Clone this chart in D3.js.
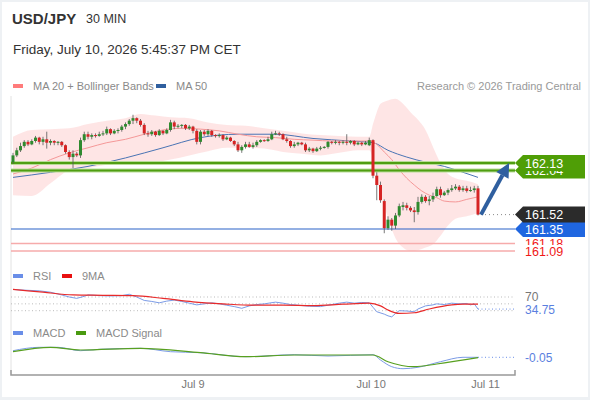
<!DOCTYPE html>
<html>
<head>
<meta charset="utf-8">
<script src="https://cdn.jsdelivr.net/npm/d3@7"></script>
<style>
  body { margin: 0; background: #fff; }
  svg { display: block; font-family: "Liberation Sans", Arial, sans-serif; }
</style>
</head>
<body>
<svg id="chart" width="590" height="400"></svg>
<script>
// ---- data (30 min candles, USD/JPY) ----
const open = [
  162.14,162.22,162.28,162.33,162.38,162.35,162.39,162.43,162.38,162.41,
  162.37,162.39,162.37,162.38,162.34,162.26,162.20,162.24,162.22,162.40,
  162.47,162.44,162.46,162.45,162.47,162.48,162.53,162.48,162.51,162.52,
  162.56,162.59,162.63,162.66,162.63,162.58,162.48,162.47,162.50,162.46,
  162.51,162.48,162.52,162.61,162.56,162.57,162.58,162.54,162.56,162.51,
  162.38,162.50,162.47,162.51,162.46,162.45,162.46,162.41,162.43,162.39,
  162.35,162.28,162.32,162.35,162.32,162.34,162.38,162.40,162.39,162.41,
  162.47,162.48,162.47,162.41,162.39,162.33,162.35,162.37,162.35,162.28,
  162.30,162.27,162.30,162.31,162.32,162.38,162.37,162.38,162.37,162.38,
  162.37,162.39,162.35,162.37,162.35,162.34,162.40,161.98,161.87,161.68,
  161.36,161.46,161.39,161.51,161.61,161.63,161.60,161.57,161.55,161.67,
  161.73,161.68,161.70,161.74,161.82,161.75,161.78,161.81,161.83,161.85,
  161.81,161.83,161.80,161.81,161.83
];
const high = [
  162.25,162.31,162.37,162.40,162.40,162.41,162.45,162.44,162.44,162.50,
  162.41,162.40,162.39,162.39,162.35,162.28,162.28,162.26,162.43,162.50,
  162.50,162.48,162.48,162.50,162.51,162.56,162.54,162.53,162.54,162.58,
  162.61,162.65,162.70,162.67,162.65,162.60,162.51,162.52,162.51,162.53,
  162.52,162.54,162.64,162.63,162.59,162.59,162.59,162.58,162.57,162.53,
  162.52,162.52,162.53,162.52,162.47,162.48,162.47,162.45,162.44,162.40,
  162.38,162.34,162.38,162.38,162.37,162.40,162.41,162.41,162.44,162.50,
  162.51,162.50,162.48,162.44,162.40,162.38,162.38,162.38,162.37,162.32,
  162.31,162.32,162.33,162.33,162.39,162.39,162.40,162.39,162.40,162.47,
  162.40,162.40,162.38,162.38,162.39,162.43,162.41,162.02,161.91,161.70,
  161.50,161.48,161.54,161.65,161.67,161.66,161.62,161.61,161.73,161.76,
  161.75,161.74,161.78,161.85,161.85,161.80,161.83,161.87,161.88,161.87,
  161.86,161.86,161.85,161.86,161.86
];
const low = [
  162.12,162.20,162.26,162.31,162.33,162.34,162.37,162.35,162.34,162.30,
  162.34,162.34,162.34,162.32,162.24,162.17,162.07,162.20,162.19,162.38,
  162.41,162.41,162.43,162.44,162.45,162.46,162.46,162.47,162.48,162.50,
  162.53,162.57,162.59,162.60,162.56,162.46,162.44,162.45,162.44,162.45,
  162.46,162.47,162.50,162.53,162.54,162.54,162.52,162.52,162.48,162.35,
  162.35,162.45,162.45,162.44,162.43,162.43,162.39,162.40,162.38,162.33,
  162.26,162.25,162.30,162.31,162.30,162.32,162.37,162.38,162.38,162.40,
  162.46,162.45,162.40,162.37,162.31,162.31,162.33,162.34,162.26,162.26,
  162.25,162.26,162.28,162.30,162.30,162.35,162.35,162.34,162.35,162.34,
  162.35,162.33,162.34,162.33,162.34,162.33,161.95,161.69,161.66,161.30,
  161.34,161.33,161.35,161.49,161.57,161.57,161.55,161.43,161.52,161.65,
  161.66,161.63,161.67,161.73,161.72,161.74,161.75,161.79,161.81,161.79,
  161.79,161.78,161.79,161.78,161.51
];
const close = [
  162.22,162.28,162.33,162.38,162.35,162.39,162.43,162.38,162.41,162.37,
  162.39,162.37,162.38,162.34,162.26,162.20,162.24,162.22,162.40,162.47,
  162.44,162.46,162.45,162.47,162.48,162.53,162.48,162.51,162.52,162.56,
  162.59,162.63,162.66,162.63,162.58,162.48,162.47,162.50,162.46,162.51,
  162.48,162.52,162.61,162.56,162.57,162.58,162.54,162.56,162.51,162.38,
  162.50,162.47,162.51,162.46,162.45,162.46,162.41,162.43,162.39,162.35,
  162.28,162.32,162.35,162.32,162.34,162.38,162.40,162.39,162.41,162.47,
  162.48,162.47,162.41,162.39,162.33,162.35,162.37,162.35,162.28,162.30,
  162.27,162.30,162.31,162.32,162.38,162.37,162.38,162.37,162.38,162.37,
  162.39,162.35,162.37,162.35,162.37,162.40,161.98,161.87,161.69,161.36,
  161.46,161.39,161.51,161.62,161.63,161.60,161.57,161.55,161.67,161.73,
  161.68,161.70,161.74,161.82,161.75,161.78,161.81,161.83,161.85,161.81,
  161.83,161.80,161.81,161.83,161.52
];

// moving averages and bands (candle index -> price)
const ma50Idx = [0,10,20,30,40,50,60,70,80,90,96,100,105,110,115,120,124];
const ma50Val = [161.96,162.02,162.09,162.19,162.31,162.43,162.47,162.47,162.42,162.39,162.37,162.28,162.20,162.14,162.09,162.02,161.96];

const ma20Idx = [0,5,10,15,20,25,30,35,40,45,50,55,60,65,70,75,80,85,90,95,97,99,101,103,105,107,109,111,113,115,118,121,124];
const ma20Val = [162.00,162.07,162.17,162.25,162.31,162.37,162.41,162.47,162.52,162.54,162.53,162.51,162.47,162.44,162.43,162.41,162.40,162.39,162.39,162.39,162.35,162.26,162.17,162.05,161.95,161.87,161.80,161.75,161.72,161.68,161.67,161.70,161.73];

const bandIdx = [0,5,10,15,20,25,30,34,38,42,47,52,57,62,67,72,77,82,87,92,95,96,97,98,100,102,104,106,108,110,112,114,116,118,121,124];
const bandUpper = [162.44,162.52,162.53,162.54,162.59,162.63,162.66,162.71,162.69,162.67,162.66,162.61,162.58,162.57,162.54,162.51,162.48,162.46,162.45,162.44,162.44,162.59,162.73,162.83,162.87,162.89,162.83,162.73,162.64,162.52,162.32,162.13,162.00,161.95,161.92,161.88];
const bandLower = [161.75,161.74,161.89,162.04,162.07,162.11,162.12,162.13,162.14,162.17,162.22,162.27,162.31,162.31,162.30,162.26,162.24,162.22,162.25,162.28,162.28,162.17,161.95,161.78,161.48,161.24,161.13,161.09,161.10,161.13,161.17,161.27,161.39,161.47,161.50,161.54];

// key levels
const resistances = [162.13, 162.04];
const lastPrice = 161.52;
const pivot = 161.35;
const supports = [161.18, 161.09];

// RSI and its 9 period average
const rsiIdx = [0,3,7,10,13,15,17,19,20,23,26,29,31,33,35,37,39,41,43,45,47,49,51,53,55,57,59,61,63,65,67,70,72,74,77,79,82,84,87,89,91,93,95,96,97,99,100,101,102,103,105,107,108,110,112,113,115,117,119,121,122,123,124];
const rsiVal = [92,90,88,84,76,70,66,72,76,74,73,74,78,70,60,57,53,58,61,57,52,47,50,53,50,46,42,37,44,48,50,55,52,48,45,43,42,46,52,55,52,54,53,40,27,20,15,12,22,30,29,27,35,44,47,50,48,52,50,51,47,50,34.75];
const rsiMaIdx = [0,8,16,24,32,40,48,56,64,72,80,88,95,98,100,103,107,111,117,120,124];
const rsiMaVal = [92,84,76,75,74,66,56,50,46,46,45,49,52,44,32,22,24,35,47,49,49];
const rsiLevels = [70, 50, 30];

// MACD
const macdIdx = [0,7,12,18,23,34,42,50,62,75,84,96,98,101,104,108,114,120,124];
const macdVal = [0.013,0.047,0.047,0.013,0.027,0.037,0.003,-0.007,-0.047,-0.027,-0.040,-0.027,-0.080,-0.147,-0.167,-0.153,-0.097,-0.053,-0.053];
const sigIdx = [0,10,18,34,50,62,75,96,100,107,113,124];
const sigVal = [0.003,0.047,0.020,0.037,-0.007,-0.047,-0.030,-0.030,-0.097,-0.147,-0.120,-0.057];

// time axis
const dayTicks = [48, 95.5, 126];
const dayLabels = ['Jul 9', 'Jul 10', 'Jul 11'];

const candles = open.map((o, i) => ({i, o, h: high[i], l: low[i], c: close[i]}));
const zip = (a, b) => a.map((v, k) => [v, b[k]]);

// ---- scales ----
const svg = d3.select('#chart');
const x = d3.scaleLinear().domain([0, 124]).range([13, 478]);
const y = d3.scaleLinear().domain([161.09, 162.13]).range([251, 163]);
const rsiY = d3.scaleLinear().domain([30, 70]).range([310.7, 297]);
const macdY = d3.scaleLinear().domain([-0.05, 0.05]).range([357, 347]);
const fmt = v => d3.format('.2f')(v).replace('\u2212', '-');
const labelX = 515;

// frame
svg.append('rect').attr('width', 590).attr('height', 400).attr('fill', '#eef1f4');
svg.append('rect').attr('x', 2).attr('y', 2).attr('width', 586).attr('height', 395).attr('fill', '#fff');

// header
svg.append('text').attr('x', 12).attr('y', 24).attr('font-size', 15).attr('font-weight', 'bold')
  .attr('fill', '#333').text('USD/JPY');
svg.append('text').attr('x', 86).attr('y', 23).attr('font-size', 12.5).attr('fill', '#333').text('30 MIN');
svg.append('text').attr('x', 13).attr('y', 54).attr('font-size', 13.5).attr('fill', '#333')
  .text('Friday, July 10, 2026 5:45:37 PM CET');

// legends
const legend = (lx, ly, color, label) => {
  svg.append('rect').attr('x', lx).attr('y', ly - 2).attr('width', 10).attr('height', 4).attr('fill', color);
  svg.append('text').attr('x', lx + 20).attr('y', ly + 4).attr('font-size', 11).attr('fill', '#8a8a8a').text(label);
};
legend(13, 86, '#ff7b7b', 'MA 20 + Bollinger Bands');
legend(156, 86, '#2f5f9f', 'MA 50');
svg.append('text').attr('x', 581).attr('y', 90).attr('font-size', 11).attr('fill', '#999')
  .attr('text-anchor', 'end').text('Research \u00a9 2026 Trading Central');

// left rule
svg.append('line').attr('x1', 11).attr('x2', 11).attr('y1', 96).attr('y2', 375)
  .attr('stroke', '#e2e2e2');

// ---- price panel ----
const area = d3.area().x(d => x(d[0])).y0(d => y(d[2])).y1(d => y(d[1])).curve(d3.curveMonotoneX);
svg.append('path')
  .attr('d', area(bandIdx.map((v, k) => [v, bandUpper[k], bandLower[k]])))
  .attr('fill', '#fddcdc').attr('opacity', 0.75);

const pline = d3.line().x(d => x(d[0])).y(d => y(d[1])).curve(d3.curveMonotoneX);
svg.append('path').attr('d', pline(zip(ma50Idx, ma50Val)))
  .attr('fill', 'none').attr('stroke', '#4a74b4').attr('stroke-width', 1);
svg.append('path').attr('d', pline(zip(ma20Idx, ma20Val)))
  .attr('fill', 'none').attr('stroke', '#f59898').attr('stroke-width', 1);

// level lines
resistances.forEach(v => {
  svg.append('line').attr('x1', 11).attr('x2', labelX).attr('y1', y(v)).attr('y2', y(v))
    .attr('stroke', '#b9dd98').attr('stroke-width', 4);
  svg.append('line').attr('x1', 11).attr('x2', labelX).attr('y1', y(v)).attr('y2', y(v))
    .attr('stroke', '#4f9e12').attr('stroke-width', 2);
});
svg.append('line').attr('x1', 11).attr('x2', labelX).attr('y1', y(pivot)).attr('y2', y(pivot))
  .attr('stroke', '#2a63c8').attr('stroke-width', 1.2);
supports.forEach(v => {
  svg.append('line').attr('x1', 11).attr('x2', labelX).attr('y1', y(v)).attr('y2', y(v))
    .attr('stroke', '#f6abab').attr('stroke-width', 1.5);
});
svg.append('line').attr('x1', x(124) + 3).attr('x2', labelX).attr('y1', y(lastPrice)).attr('y2', y(lastPrice))
  .attr('stroke', '#888').attr('stroke-dasharray', '1,3');

// candles
const cg = svg.append('g');
cg.selectAll('line').data(candles).join('line')
  .attr('x1', d => x(d.i)).attr('x2', d => x(d.i))
  .attr('y1', d => y(d.h)).attr('y2', d => y(d.l))
  .attr('stroke', '#555').attr('stroke-width', 0.8);
cg.selectAll('rect').data(candles).join('rect')
  .attr('x', d => x(d.i) - 1.5).attr('width', 3)
  .attr('y', d => y(Math.max(d.o, d.c)))
  .attr('height', d => Math.max(1, Math.abs(y(d.o) - y(d.c))))
  .attr('fill', d => d.c >= d.o ? '#2f8a2f' : '#d62424');

// arrow to target
{
  const x0 = x(124) + 3, y0 = y(lastPrice);
  const x1 = x(132.3), y1 = y(resistances[0]);
  const ang = Math.atan2(y1 - y0, x1 - x0);
  const hl = 14, hw = 7;
  const bx = x1 - hl * Math.cos(ang), by = y1 - hl * Math.sin(ang);
  svg.append('line').attr('x1', x0).attr('y1', y0).attr('x2', bx).attr('y2', by)
    .attr('stroke', '#2f5f9f').attr('stroke-width', 4);
  svg.append('path').attr('fill', '#2f5f9f')
    .attr('d', `M${x1},${y1}L${bx + hw * Math.sin(ang)},${by - hw * Math.cos(ang)}L${bx - hw * Math.sin(ang)},${by + hw * Math.cos(ang)}Z`);
}

// right labels
const tag = (v, fill, txtColor) => {
  const cy = y(v);
  svg.append('path')
    .attr('d', `M${labelX},${cy}L${labelX + 8},${cy - 8}L585,${cy - 8}L585,${cy + 8}L${labelX + 8},${cy + 8}Z`)
    .attr('fill', fill);
  svg.append('text').attr('x', labelX + 10).attr('y', cy + 4.5).attr('font-size', 12.5)
    .attr('fill', txtColor).text(fmt(v));
};
supports.forEach(v => {
  svg.append('rect').attr('x', labelX + 6).attr('y', y(v) - 6).attr('width', 60).attr('height', 12).attr('fill', '#fff');
  svg.append('text').attr('x', labelX + 10).attr('y', y(v) + 4.5).attr('font-size', 12.5)
    .attr('fill', '#f01818').text(fmt(v));
});
tag(pivot, '#1f66e0', '#fff');
tag(lastPrice, '#2b2b2b', '#fff');
tag(resistances[1], '#4f9e06', '#fff');
tag(resistances[0], '#4f9e06', '#fff');

// ---- RSI panel ----
legend(13, 276, '#6a8ee8', 'RSI');
legend(62, 276, '#e81010', '9MA');
rsiLevels.forEach(v => {
  svg.append('line').attr('x1', 11).attr('x2', labelX).attr('y1', rsiY(v)).attr('y2', rsiY(v))
    .attr('stroke', '#bbb').attr('stroke-dasharray', '1,2.5');
});
const rline = d3.line().x(d => x(d[0])).y(d => rsiY(d[1]));
svg.append('path').attr('d', rline(zip(rsiIdx, rsiVal)))
  .attr('fill', 'none').attr('stroke', '#7b9be6').attr('stroke-width', 1);
svg.append('path').attr('d', rline.curve(d3.curveMonotoneX)(zip(rsiMaIdx, rsiMaVal)))
  .attr('fill', 'none').attr('stroke', '#e82a2a').attr('stroke-width', 1.2);
const rsiLast = rsiVal[rsiVal.length - 1];
svg.append('line').attr('x1', x(124)).attr('x2', labelX).attr('y1', rsiY(rsiLast)).attr('y2', rsiY(rsiLast))
  .attr('stroke', '#6a8ee8').attr('stroke-dasharray', '1,2.5');
svg.append('text').attr('x', 525).attr('y', rsiY(70) + 4).attr('font-size', 12).attr('fill', '#777').text('70');
svg.append('text').attr('x', 525).attr('y', rsiY(rsiLast) + 5).attr('font-size', 12).attr('fill', '#5b7fe0').text(rsiLast);

// ---- MACD panel ----
legend(13, 333, '#6a8ee8', 'MACD');
legend(76, 333, '#4a9a10', 'MACD Signal');
const mline = d3.line().x(d => x(d[0])).y(d => macdY(d[1])).curve(d3.curveMonotoneX);
svg.append('path').attr('d', mline(zip(macdIdx, macdVal)))
  .attr('fill', 'none').attr('stroke', '#7b9be6').attr('stroke-width', 1);
svg.append('path').attr('d', mline(zip(sigIdx, sigVal)))
  .attr('fill', 'none').attr('stroke', '#58a020').attr('stroke-width', 1.2);
const macdLast = macdVal[macdVal.length - 1];
svg.append('line').attr('x1', x(124)).attr('x2', labelX).attr('y1', macdY(macdLast)).attr('y2', macdY(macdLast))
  .attr('stroke', '#6a8ee8').attr('stroke-dasharray', '1,2.5');
svg.append('text').attr('x', 525).attr('y', macdY(macdLast) + 5).attr('font-size', 12).attr('fill', '#5b7fe0')
  .text(fmt(macdLast));

// ---- time axis ----
svg.append('path').attr('d', `M11,370V375H${labelX}V370`)
  .attr('fill', 'none').attr('stroke', '#999').attr('stroke-width', 1.5);
svg.selectAll('.day').data(dayTicks).join('text')
  .attr('class', 'day')
  .attr('x', d => x(d)).attr('y', 388).attr('text-anchor', 'middle')
  .attr('font-size', 11).attr('fill', '#777')
  .text((d, k) => dayLabels[k]);
</script>
</body>
</html>
